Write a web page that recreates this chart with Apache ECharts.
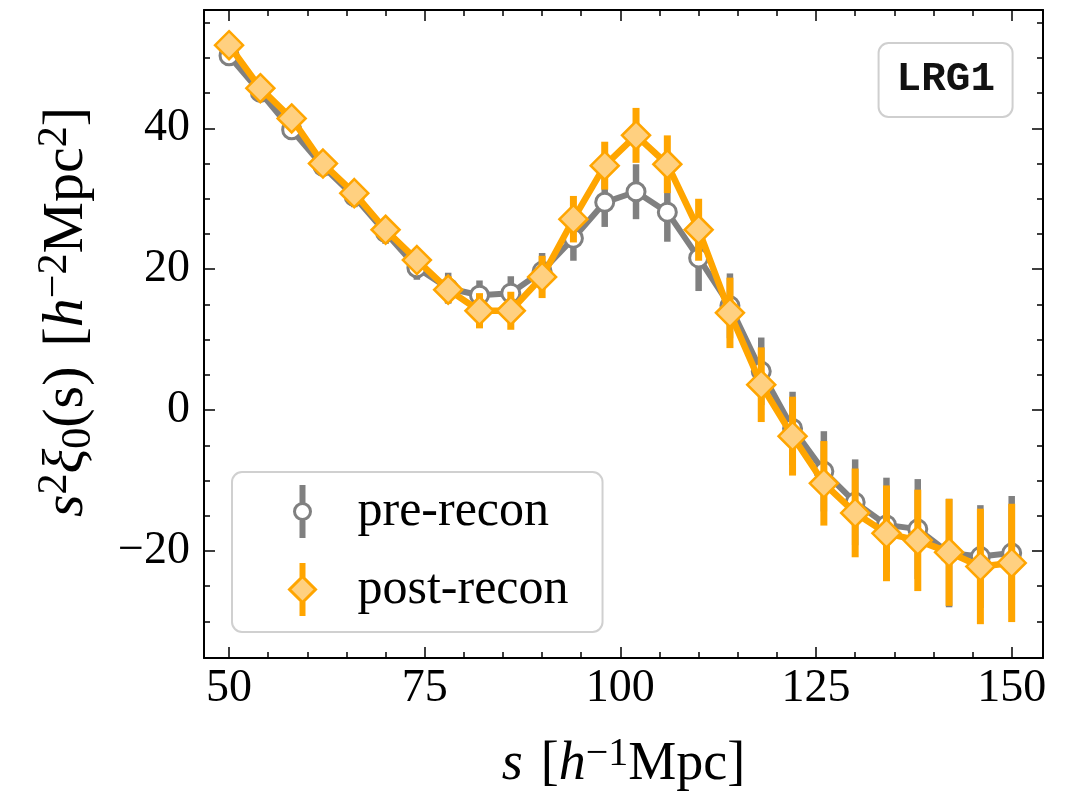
<!DOCTYPE html>
<html>
<head>
<meta charset="utf-8">
<script src="https://cdn.jsdelivr.net/npm/echarts@6/dist/echarts.min.js"></script>
<style>
  html, body { margin: 0; padding: 0; background: #fff; }
  #chart { width: 1075px; height: 792px; }
</style>
</head>
<body>
<div id="chart"></div>
<script>
// separation s [h^-1 Mpc]
const sValues = [50, 54, 58, 62, 66, 70, 74, 78, 82, 86, 90, 94, 98, 102, 106, 110, 114, 118, 122, 126, 130, 134, 138, 142, 146, 150];

// pre-recon monopole s^2 xi_0 and errors
const preY = [50.3, 45.1, 39.8, 34.6, 30.3, 25.2, 20.2, 17.3, 16.3, 16.6, 19.7, 24.4, 29.5, 31.0, 28.1, 21.6, 14.8, 5.5, -2.6, -8.7, -13.1, -16.3, -16.9, -20.3, -20.8, -20.3];
const preErr = [1.2, 1.2, 1.3, 1.4, 1.5, 1.6, 1.7, 2.2, 2.1, 2.4, 2.6, 3.2, 3.5, 3.9, 4.2, 4.7, 4.6, 4.8, 5.2, 5.7, 6.1, 6.7, 7.1, 7.7, 7.3, 8.1];

// post-recon monopole and errors
const postY = [51.8, 45.7, 41.4, 35.0, 30.8, 25.6, 21.3, 17.1, 14.1, 14.1, 18.9, 27.1, 34.7, 39.0, 34.9, 25.6, 13.8, 3.6, -3.7, -10.4, -14.6, -17.5, -18.5, -20.2, -22.2, -21.7];
const postErr = [1.2, 1.2, 1.3, 1.3, 1.4, 1.5, 1.6, 1.9, 2.5, 2.7, 3.0, 3.3, 3.4, 3.9, 4.1, 4.4, 5.0, 5.3, 5.6, 6.0, 6.3, 6.8, 7.2, 7.6, 8.2, 8.4];

// axis ticks
const xMajor = [50, 75, 100, 125, 150];
const xMinor = [55, 60, 65, 70, 80, 85, 90, 95, 105, 110, 115, 120, 130, 135, 140, 145];
const yMajor = [-20, 0, 20, 40];
const yMinor = [-30, -25, -15, -10, -5, 5, 10, 15, 25, 30, 35, 45, 50, 55];

const X_MIN = 46.8, X_MAX = 154;
const Y_MIN = -35.2, Y_MAX = 56.8;

const GREY = '#808080';
const ORANGE = '#ffa500';
const ORANGE_FILL = '#ffd080';
const SERIF = '"Liberation Serif", "DejaVu Serif", serif';

const chart = echarts.init(document.getElementById('chart'), null, { renderer: 'canvas' });

// vertical error bar drawn through the axis scales
function errorBars(color, width) {
  return function (params, api) {
    const x = api.value(0), y = api.value(1), e = api.value(2);
    const top = api.coord([x, y + e]);
    const bot = api.coord([x, y - e]);
    return {
      type: 'line',
      shape: { x1: top[0], y1: top[1], x2: bot[0], y2: bot[1] },
      style: { stroke: color, lineWidth: width }
    };
  };
}

const preBars = sValues.map((s, i) => [s, preY[i], preErr[i]]);
const postBars = sValues.map((s, i) => [s, postY[i], postErr[i]]);
const preLine = sValues.map((s, i) => [s, preY[i]]);
const postLine = sValues.map((s, i) => [s, postY[i]]);

function xAxisDef(pos, ticks, len, main) {
  return {
    type: 'value', position: pos, min: X_MIN, max: X_MAX,
    axisLine: { show: main, onZero: false, lineStyle: { color: '#000', width: 2 } },
    axisTick: { show: true, inside: true, length: len, customValues: ticks, lineStyle: { color: '#000', width: 1.5 } },
    axisLabel: { show: main && pos === 'bottom', customValues: ticks, margin: 8, color: '#000', fontFamily: SERIF, fontSize: 46 },
    splitLine: { show: false }
  };
}
function yAxisDef(pos, ticks, len, main) {
  return {
    type: 'value', position: pos, min: Y_MIN, max: Y_MAX,
    axisLine: { show: main, onZero: false, lineStyle: { color: '#000', width: 2 } },
    axisTick: { show: true, inside: true, length: len, customValues: ticks, lineStyle: { color: '#000', width: 1.5 } },
    axisLabel: {
      show: main && pos === 'left', customValues: ticks, margin: 14, color: '#000', fontFamily: SERIF, fontSize: 46,
      formatter: v => (v < 0 ? '\u2212' + Math.abs(v) : String(v))
    },
    splitLine: { show: false }
  };
}

const xAxes = [
  xAxisDef('bottom', xMajor, 11, true),
  xAxisDef('bottom', xMinor, 6, false),
  xAxisDef('top', xMajor, 11, true),
  xAxisDef('top', xMinor, 6, false)
];
xAxes[0].name = '{it|s}{gap|}[{it|h}{sup|\u22121}Mpc]';
xAxes[0].nameLocation = 'middle';
xAxes[0].nameGap = 76;
xAxes[0].nameTextStyle = {
  color: '#000', fontFamily: SERIF, fontSize: 54, lineHeight: 62,
  rich: {
    it: { fontFamily: SERIF, fontStyle: 'italic', fontSize: 54, lineHeight: 62 },
    gap: { width: 18 },
    sup: { fontFamily: SERIF, fontSize: 40, lineHeight: 42, verticalAlign: 'top' }
  }
};

const yAxes = [
  yAxisDef('left', yMajor, 11, true),
  yAxisDef('left', yMinor, 6, false),
  yAxisDef('right', yMajor, 11, true),
  yAxisDef('right', yMinor, 6, false)
];
yAxes[0].name = '{it|s}{sup|2}{it|\u03be}{sub|0}(s){gap|}[{it|h}{sup|\u22122}Mpc{sup|2}]';
yAxes[0].nameLocation = 'middle';
yAxes[0].nameRotate = 90;
yAxes[0].nameGap = 104;
yAxes[0].nameTextStyle = {
  color: '#000', fontFamily: SERIF, fontSize: 58, lineHeight: 66,
  padding: [0, 0, 0, 44],
  rich: {
    it: { fontFamily: SERIF, fontStyle: 'italic', fontSize: 58, lineHeight: 66 },
    gap: { width: 20 },
    sup: { fontFamily: SERIF, fontSize: 42, lineHeight: 44, verticalAlign: 'top' },
    sub: { fontFamily: SERIF, fontSize: 42, lineHeight: 44, verticalAlign: 'bottom' }
  }
};

// legend icons: error bar with marker
const preIcon = 'path://M8.5,0 L11.5,0 L11.5,16 L8.5,16 Z M8.5,34 L11.5,34 L11.5,50 L8.5,50 Z M18,25 A8,8 0 1,1 2,25 A8,8 0 1,1 18,25 Z';
const postIcon = 'path://M12.5,0 L15.5,0 L15.5,12 L12.5,12 Z M12.5,38 L15.5,38 L15.5,50 L12.5,50 Z M14,12 L27,25 L14,38 L1,25 Z';

chart.setOption({
  animation: false,
  backgroundColor: '#fff',
  grid: { left: 204, top: 10, width: 839, height: 648, outerBoundsMode: 'none' },
  title: {
    text: 'LRG1',
    right: 62, top: 43,
    padding: [14, 18, 14, 18],
    borderColor: '#cfcfcf', borderWidth: 2, borderRadius: 10,
    backgroundColor: '#fff',
    textStyle: { fontFamily: '"Liberation Mono", "DejaVu Sans Mono", monospace', fontWeight: 'bold', fontSize: 41, lineHeight: 46, color: '#111' }
  },
  legend: {
    orient: 'vertical',
    left: 232, top: 472,
    padding: [13, 34, 16, 56],
    itemWidth: 28, itemHeight: 50, itemGap: 25,
    backgroundColor: 'rgba(255,255,255,0.85)',
    borderColor: '#d0d0d0', borderWidth: 2, borderRadius: 10,
    lineStyle: { width: 0, opacity: 0 },
    textStyle: { fontFamily: SERIF, fontSize: 50, color: '#000', padding: [0, 0, 0, 36] },
    data: [
      { name: 'pre-recon', icon: preIcon, itemStyle: { color: '#fff', borderColor: GREY, borderWidth: 3 } },
      { name: 'post-recon', icon: postIcon, itemStyle: { color: ORANGE_FILL, borderColor: ORANGE, borderWidth: 3 } }
    ]
  },
  xAxis: xAxes,
  yAxis: yAxes,
  series: [
    {
      name: 'pre-recon', type: 'custom', z: 2,
      renderItem: errorBars(GREY, 6.5),
      encode: { x: 0, y: 1 },
      itemStyle: { color: GREY },
      data: preBars
    },
    {
      name: 'pre-recon', type: 'line', z: 3,
      data: preLine,
      symbol: 'circle', symbolSize: 18, showAllSymbol: true,
      lineStyle: { color: GREY, width: 6 },
      itemStyle: { color: '#fff', borderColor: GREY, borderWidth: 3 }
    },
    {
      name: 'post-recon', type: 'custom', z: 4,
      renderItem: errorBars(ORANGE, 7),
      encode: { x: 0, y: 1 },
      itemStyle: { color: ORANGE },
      data: postBars
    },
    {
      name: 'post-recon', type: 'line', z: 5,
      data: postLine,
      symbol: 'diamond', symbolSize: 28, showAllSymbol: true,
      lineStyle: { color: ORANGE, width: 6.5 },
      itemStyle: { color: ORANGE_FILL, borderColor: ORANGE, borderWidth: 2.5 }
    }
  ]
});
</script>
</body>
</html>
